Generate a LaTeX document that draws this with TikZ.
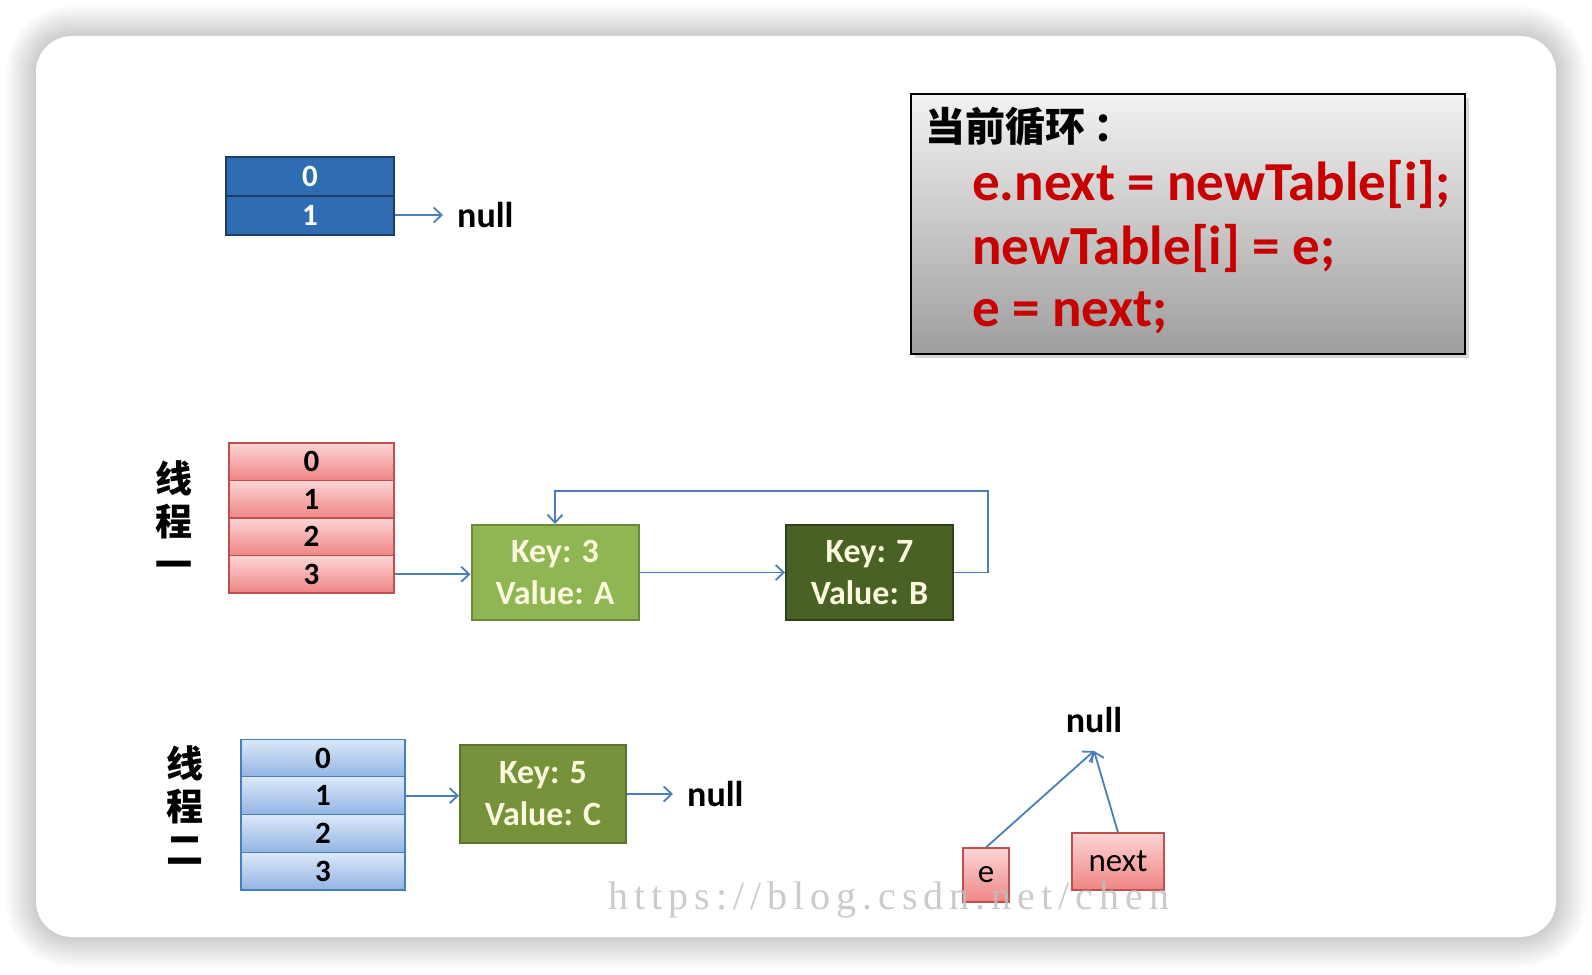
\documentclass[tikz,border=0pt]{standalone}
\usepackage{fontspec}
\setmainfont{Carlito}[BoldFont={Carlito Bold}]
\newfontfamily\cjk{Noto Sans CJK SC}
\newfontfamily\wmfont{Liberation Serif}[LetterSpace=15]
\usetikzlibrary{arrows.meta,positioning}

\definecolor{arrowblue}{HTML}{4A7EBB}
\definecolor{topblue}{HTML}{2E6CB4}
\definecolor{topborder}{HTML}{1D3D66}
\definecolor{redtop}{HTML}{FDD5D5}
\definecolor{redbot}{HTML}{EF8585}
\definecolor{redborder}{HTML}{C0504D}
\definecolor{bluetop}{HTML}{DCE8F8}
\definecolor{bluebot}{HTML}{92B5E4}
\definecolor{blueborder}{HTML}{4A7EBB}
\definecolor{greenA}{HTML}{8FB652}
\definecolor{greenAborder}{HTML}{6C8A3A}
\definecolor{greenB}{HTML}{4A6125}
\definecolor{greenBborder}{HTML}{2F3F17}
\definecolor{greenC}{HTML}{76933C}
\definecolor{greenCborder}{HTML}{5A742D}
\definecolor{cream}{HTML}{FBF8DE}
\definecolor{codered}{HTML}{C80000}

\begin{document}
\begin{tikzpicture}[x=1pt, y=-1pt,
    arrow/.style={-{Straight Barb[length=8pt,width=15pt]}, line width=1.8pt, draw=arrowblue},
    topcell/.style={rectangle, draw=topborder, line width=2pt, fill=topblue, text=white, minimum width=168pt, minimum height=39pt, inner sep=0pt, font=\fontsize{31}{34}\selectfont\bfseries},
    redcell/.style={rectangle, draw=redborder, line width=1.2pt, top color=redtop, bottom color=redbot, minimum width=165pt, minimum height=37.5pt, inner sep=0pt, font=\fontsize{31}{34}\selectfont\bfseries},
    bluecell/.style={rectangle, draw=blueborder, line width=1.2pt, top color=bluetop, bottom color=bluebot, minimum width=164pt, minimum height=37.7pt, inner sep=0pt, font=\fontsize{31}{34}\selectfont\bfseries},
    entry/.style={rectangle, line width=2pt, text=cream, align=center, minimum width=167pt, minimum height=95pt, inner sep=0pt, font=\fontsize{34}{42}\selectfont\bfseries},
    nulltext/.style={inner xsep=14pt, inner ysep=18pt, font=\fontsize{36}{40}\selectfont\bfseries},
    ptrbox/.style={rectangle, draw=redborder, line width=1.2pt, top color=redtop, bottom color=redbot, inner sep=0pt, font=\fontsize{33}{36}\selectfont},
    codeline/.style={anchor=west, inner sep=0pt, text=codered, font=\fontsize{55}{60}\selectfont\bfseries},
    loophead/.style={anchor=west, inner sep=0pt, font=\cjk\fontsize{40}{44}\selectfont\bfseries},
    threadlabel/.style={align=center, inner sep=0pt, font=\cjk\fontsize{37}{43}\selectfont\bfseries}
]
    \useasboundingbox (0,0) rectangle (1592,974);
    % card with soft shadow
    \fill[white] (0,0) rectangle (1592,974);
    \foreach \k in {1,...,12}
        \fill[black, opacity=0.014, rounded corners=36pt+2.5pt*\k]
            (36-2.5*\k,36-2.5*\k) rectangle (1556+2.5*\k,937+2.5*\k);
    \fill[white, rounded corners=36pt] (36,36) rectangle (1556,937);

    % old table
    \foreach \i in {0,1}
        \node[topcell] (t\i) at (310,176+39*\i) {\i};
    \node[nulltext, right=48pt of t1] (nulltop) {null};
    \draw[arrow] (t1) -- (nulltop);

    % current loop
    \fill[black, opacity=0.15] (915,98) rectangle (1469,358);
    \node[rectangle, draw=black, line width=2pt, top color=white!95!black, bottom color=white!62!black,
          minimum width=554pt, minimum height=260pt] (loopbox) at (1188,224) {};
    \node[loophead] (head) at (925,127) {当前循环\kern0.2em：};
    \node[codeline] (line1) at (972,184) {e.next = newTable[i];};
    \node[codeline] (line2) at (972,248) {newTable[i] = e;};
    \node[codeline] (line3) at (972,313) {e = next;};

    % thread one
    \node[threadlabel] (th1) at (174,520) {线\\程\\一};
    \foreach \i in {0,...,3}
        \node[redcell] (r\i) at (311.5,461.75+37.5*\i) {\i};
    \node[entry, draw=greenAborder, fill=greenA] (A) at (555,572.5) {Key: 3\\Value: A};
    \node[entry, draw=greenBborder, fill=greenB] (B) at (869.5,572.5) {Key: 7\\Value: B};
    \coordinate (loopturn) at (988,491);
    \draw[arrow] (r3.east) -- (r3.east -| A.west);
    \draw[arrow] (A) -- (B);
    \draw[arrow] (B.east) -| (loopturn) -| (A.north);

    % thread two
    \node[threadlabel] (th2) at (185,805) {线\\程\\二};
    \foreach \i in {0,...,3}
        \node[bluecell] (b\i) at (323,758+37.7*\i) {\i};
    \node[entry, draw=greenCborder, fill=greenC, minimum width=166pt, minimum height=98pt] (C) at (543,794) {Key: 5\\Value: C};
    \node[nulltext, right=46pt of C] (nullmid) {null};
    \draw[arrow] (b1.east) -- (b1.east -| C.west);
    \draw[arrow] (C) -- (nullmid);

    % pointers e and next
    \node[nulltext] (nullend) at (1094,720) {null};
    \node[ptrbox, minimum width=46pt, minimum height=54pt] (e) at (986,875) {e};
    \node[ptrbox, minimum width=92pt, minimum height=57pt] (next) at (1118,861.5) {next};
    \draw[arrow] (e.north) -- (nullend.south);
    \draw[arrow] (next.north) -- (nullend.south);

    % watermark
    \begin{scope}
        \clip (600,860) rectangle (1173,935);
        \node[anchor=west, inner sep=0pt, text=black!25, opacity=0.8, font=\wmfont\fontsize{40}{44}\selectfont] (wm) at (608,900) {https://blog.csdn.net/chen};
    \end{scope}
\end{tikzpicture}
\end{document}
